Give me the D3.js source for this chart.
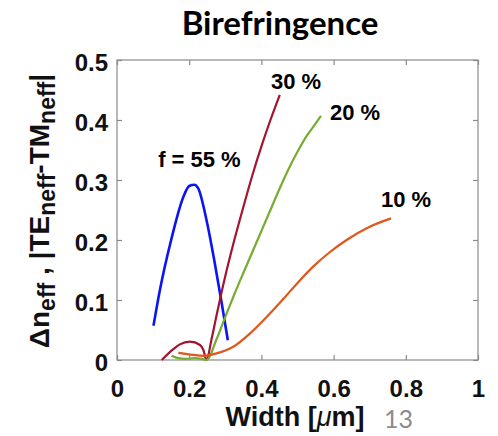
<!DOCTYPE html>
<html><head><meta charset="utf-8">
<script src="https://cdn.jsdelivr.net/npm/d3@7"></script>
<style>body{margin:0;background:#fff}svg{display:block}</style>
</head><body>
<svg id="c" width="498" height="436"></svg>
<script>
// ---- data ----
const xTicks = [0, 0.2, 0.4, 0.6, 0.8, 1];
const xTickLabels = ["0", "0.2", "0.4", "0.6", "0.8", "1"];
const yTicks = [0, 0.1, 0.2, 0.3, 0.4, 0.5];
const yTickLabels = ["0", "0.1", "0.2", "0.3", "0.4", "0.5"];

const seriesNames = ["f = 55 %", "30 %", "20 %", "10 %"];
const seriesColors = ["#0a14f5", "#a2142f", "#77ac30", "#e0561b"];

const w55 = [0.101, 0.119, 0.150, 0.184, 0.200, 0.214, 0.225, 0.248, 0.271, 0.290, 0.307];
const v55 = [0.057, 0.117, 0.200, 0.272, 0.290, 0.292, 0.286, 0.233, 0.161, 0.095, 0.033];

const w30 = [0.124, 0.156, 0.174, 0.202, 0.230, 0.239, 0.248, 0.262, 0.276, 0.300, 0.325, 0.350, 0.375, 0.400, 0.425, 0.451];
const v30 = [0.000, 0.018, 0.026, 0.0305, 0.025, 0.017, 0.000, 0.035, 0.075, 0.140, 0.200, 0.255, 0.308, 0.356, 0.400, 0.442];

const w20 = [0.151, 0.170, 0.190, 0.215, 0.235, 0.248, 0.276, 0.300, 0.322, 0.350, 0.375, 0.400, 0.425, 0.450, 0.475, 0.500, 0.525, 0.550, 0.565];
const v20 = [0.007, 0.003, 0.002, 0.003, 0.002, 0.000, 0.035, 0.072, 0.105, 0.145, 0.180, 0.215, 0.250, 0.285, 0.318, 0.347, 0.373, 0.394, 0.407];

const w10 = [0.170, 0.205, 0.240, 0.276, 0.322, 0.368, 0.415, 0.461, 0.507, 0.544, 0.590, 0.636, 0.700, 0.759];
const v10 = [0.012, 0.009, 0.007, 0.011, 0.022, 0.044, 0.072, 0.102, 0.133, 0.156, 0.180, 0.200, 0.222, 0.236];

// label anchor points (data coords)
const labelW = [0.114, 0.4266, 0.590, 0.731];
const labelV = [0.322, 0.4517, 0.400, 0.255];

// ---- layout ----
const L = 117, T = 60, R = 478, B = 360;
const svg = d3.select("#c");
const x = d3.scaleLinear().domain([0, 1]).range([L, R]);
const y = d3.scaleLinear().domain([0, 0.5]).range([B, T]);
const axisColor = "#8a8a8a";
const font = "'Liberation Sans', Arial, sans-serif";

// title
svg.append("text").attr("x", 280).attr("y", 35).attr("text-anchor", "middle")
  .attr("font-family", "Lato, 'Open Sans', sans-serif").attr("font-weight", 700)
  .attr("font-size", 33).attr("fill", "#000").text("Birefringence");

// box
svg.append("rect").attr("x", L).attr("y", T).attr("width", R - L).attr("height", B - T)
  .attr("fill", "none").attr("stroke", axisColor).attr("stroke-width", 1.2);

function styleAxis(g) {
  g.select(".domain").remove();
  g.selectAll(".tick line").attr("stroke", axisColor).attr("stroke-width", 1.2);
  g.selectAll(".tick text").attr("font-family", font).attr("font-weight", 700)
    .attr("font-size", 24).attr("fill", "#111");
}
const xb = svg.append("g").attr("transform", `translate(0,${B})`)
  .call(d3.axisBottom(x).tickValues(xTicks).tickFormat((d, i) => xTickLabels[i]).tickSizeInner(-5).tickSizeOuter(0).tickPadding(20));
styleAxis(xb);
const xt = svg.append("g").attr("transform", `translate(0,${T})`)
  .call(d3.axisTop(x).tickValues(xTicks).tickFormat("").tickSizeInner(-5).tickSizeOuter(0));
styleAxis(xt);
const yl = svg.append("g").attr("transform", `translate(${L},0)`)
  .call(d3.axisLeft(y).tickValues(yTicks).tickFormat((d, i) => yTickLabels[i]).tickSizeInner(-5).tickSizeOuter(0).tickPadding(9));
styleAxis(yl);
yl.selectAll(".tick text").attr("dy", "0.42em");
const yr = svg.append("g").attr("transform", `translate(${R},0)`)
  .call(d3.axisRight(y).tickValues(yTicks).tickFormat("").tickSizeInner(-5).tickSizeOuter(0));
styleAxis(yr);

// lines
const series = [[w55, v55], [w30, v30], [w20, v20], [w10, v10]];
const widths = [2.6, 2.2, 2.2, 2.2];
const line = d3.line().x(d => x(d[0])).y(d => y(d[1])).curve(d3.curveMonotoneX);
series.forEach((s, i) => {
  const pts = s[0].map((w, j) => [w, s[1][j]]);
  svg.append("path").attr("d", line(pts)).attr("fill", "none")
    .attr("stroke", seriesColors[i]).attr("stroke-width", widths[i])
    .attr("stroke-linejoin", "round").attr("stroke-linecap", "butt");
});

// series labels
seriesNames.forEach((n, i) => {
  svg.append("text").attr("x", x(labelW[i])).attr("y", y(labelV[i]))
    .attr("font-family", font).attr("font-weight", 700).attr("font-size", 22)
    .attr("fill", "#000").text(n);
});

// x label
const xlab = svg.append("text").attr("x", 295).attr("y", 426).attr("text-anchor", "middle")
  .attr("font-family", font).attr("font-weight", 700).attr("font-size", 27).attr("fill", "#111");
xlab.append("tspan").text("Width [");
xlab.append("tspan").attr("font-style", "italic").attr("font-weight", 400).text("μ");
xlab.append("tspan").text("m]");

// page number
svg.append("text").attr("x", 384).attr("y", 428)
  .attr("font-family", "Lato, 'Open Sans', sans-serif").attr("font-size", 25)
  .attr("fill", "#8c8c8c").text("13");

// y label
const ylab = svg.append("text").attr("transform", "translate(49,211) rotate(-90)")
  .attr("text-anchor", "middle").attr("font-family", font).attr("font-weight", 700)
  .attr("font-size", 28).attr("fill", "#111");
ylab.append("tspan").text("Δn");
ylab.append("tspan").attr("font-size", 23).attr("dy", 6).text("eff");
ylab.append("tspan").attr("dy", -6).text(" , |TE");
ylab.append("tspan").attr("font-size", 23).attr("dy", 6).text("neff");
ylab.append("tspan").attr("dy", -6).text("-TM");
ylab.append("tspan").attr("font-size", 23).attr("dy", 6).text("neff");
ylab.append("tspan").attr("dy", -6).text("|");
</script>
</body></html>
